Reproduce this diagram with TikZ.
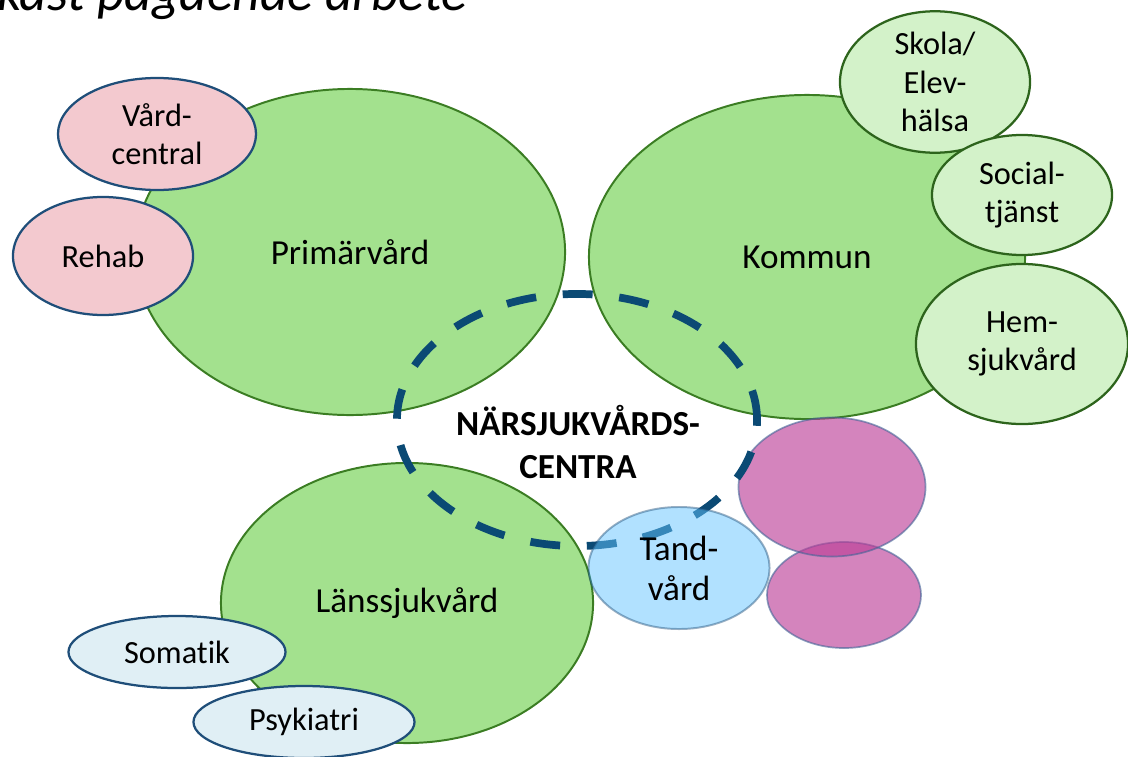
\documentclass[tikz,border=0pt]{standalone}
\usepackage{fontspec}
\setmainfont{Carlito}[Ligatures=NoCommon]
\usepackage{tikz}
\usetikzlibrary{positioning,shapes.geometric}
\definecolor{areagreen}{RGB}{163,225,142}
\definecolor{areaedge}{RGB}{59,125,35}
\definecolor{subgreen}{RGB}{211,242,201}
\definecolor{subedge}{RGB}{45,100,28}
\definecolor{subpink}{RGB}{243,201,207}
\definecolor{subblue}{RGB}{224,239,245}
\definecolor{navy}{RGB}{31,78,121}
\definecolor{dashblue}{RGB}{11,74,116}
\definecolor{toothblue}{RGB}{100,196,255}
\definecolor{plum}{RGB}{187,60,150}
\definecolor{plumedge}{RGB}{65,100,150}

\begin{document}
\begin{tikzpicture}[x=0.025cm,y=-0.025cm,
    every node/.style={ellipse,inner sep=0pt,align=center},
    area/.style={fill=areagreen,draw=areaedge,line width=1.4pt,font=\fontsize{25}{30}\selectfont},
    kommunpart/.style={fill=subgreen,draw=subedge,line width=1.6pt,font=\fontsize{23}{27.5}\selectfont},
    primpart/.style={fill=subpink,draw=navy,line width=1.6pt,font=\fontsize{23}{27.5}\selectfont},
    lanspart/.style={fill=subblue,draw=navy,line width=1.6pt,font=\fontsize{23}{27.5}\selectfont},
    blank/.style={fill=plum,fill opacity=0.63,draw=plumedge,draw opacity=0.6,line width=1.2pt},
    centra/.style={draw=dashblue,line width=5.5pt,dash pattern=on 21.3pt off 19pt}]
    \useasboundingbox (0,0) rectangle (1128,756);
    \node[rectangle,anchor=base west,font=\fontsize{38}{44}\selectfont\itshape] (title) at (-3,11) {kast pågående arbete};
    \node[area,minimum width=10.75cm,minimum height=8.15cm] (prim) at (350,252) {Primärvård};
    \node[area,minimum width=10.9cm,minimum height=8.1cm] (kommun) at (807,257) {Kommun};
    \node[area,minimum width=9.3cm,minimum height=7cm] (lans) at (407,603) {Länssjukvård};
    \node[primpart,minimum width=4.95cm,minimum height=2.8cm] (vc) at (157,134) {Vård-\\central};
    \node[primpart,minimum width=4.5cm,minimum height=2.95cm] (rehab) at (103,256) {Rehab};
    \node[kommunpart,minimum width=4.75cm,minimum height=3.1cm] (skola) at (935,82) {Skola/\\Elev-\\hälsa};
    \node[kommunpart,minimum width=4.5cm,minimum height=3cm] (social) at (1022,195) {Social-\\tjänst};
    \node[kommunpart,minimum width=5.3cm,minimum height=4cm] (hem) at (1022,344) {Hem-\\sjukvård};
    \node[lanspart,minimum width=5.425cm,minimum height=1.8cm] (somatik) at (177,652) {Somatik};
    \node[lanspart,minimum width=5.525cm,minimum height=1.8cm] (psyk) at (304,722) {Psykiatri};
    \node[blank,minimum width=3.85cm,minimum height=2.65cm] (blank2) at (844,595) {};
    \node[blank,minimum width=4.675cm,minimum height=3.475cm] (blank1) at (832,487) {};
    \node[centra,minimum width=9cm,minimum height=6.3cm] (nsc) at (577,420) {};
    \node[rectangle,font=\fontsize{25}{30.5}\selectfont\bfseries] (nsclabel) at (578,442) {NÄRSJUKVÅRDS-\\CENTRA};
    \node[fill=toothblue,fill opacity=0.5,draw=navy,draw opacity=0.45,line width=1.4pt,text opacity=1,
      font=\fontsize{25}{28.5}\selectfont,minimum width=4.525cm,minimum height=3.05cm] (tand) at (679,568) {Tand-\\vård};
\end{tikzpicture}
\end{document}
